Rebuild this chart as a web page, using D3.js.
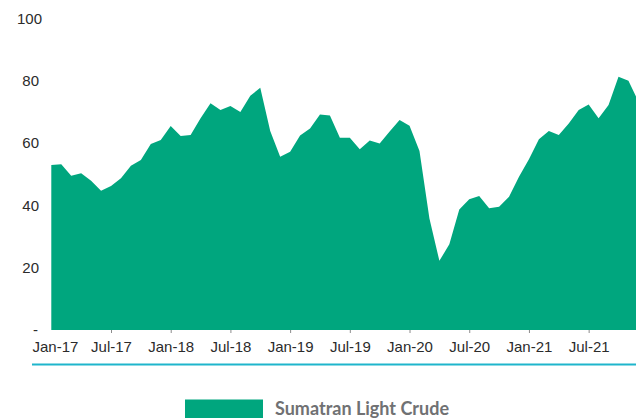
<!DOCTYPE html>
<html>
<head>
<meta charset="utf-8">
<script src="https://cdn.jsdelivr.net/npm/d3@7"></script>
<style>
  body { margin: 0; background: #fff; }
  svg { display: block; }
</style>
</head>
<body>
<script>
var width = 636;
var height = 418;

// months Jan-17 .. Dec-21
var months = d3.timeMonth.range(new Date(2017, 0, 1), new Date(2022, 0, 1));
var fmtMonth = d3.timeFormat("%b-%y");

// Sumatran Light Crude, US$/bbl
var prices = [
  53.0, 53.2, 49.5, 50.3, 47.9, 44.7, 46.2, 48.7, 52.7, 54.6, 59.7, 61.0,
  65.5, 62.3, 62.6, 68.0, 72.8, 70.6, 71.9, 70.0, 75.2, 77.8, 63.9, 55.6,
  57.2, 62.4, 64.7, 69.2, 68.9, 61.7, 61.7, 58.0, 60.8, 59.9, 63.7, 67.4,
  65.6, 57.5, 35.8, 22.2, 27.5, 38.7, 42.0, 43.0, 39.1, 39.6, 42.8, 49.2,
  54.8, 61.2, 63.9, 62.6, 66.3, 70.6, 72.4, 68.0, 72.2, 81.3, 80.0, 73.4
];

var xTickLabels = ["Jan-17", "Jul-17", "Jan-18", "Jul-18", "Jan-19", "Jul-19",
                   "Jan-20", "Jul-20", "Jan-21", "Jul-21"];
var yTicks = [0, 20, 40, 60, 80, 100];
var seriesName = "Sumatran Light Crude";

var data = months.map(function(m, i) { return {m: fmtMonth(m), v: prices[i]}; });

var svg = d3.select("body")
            .append("svg")
            .attr("width", width)
            .attr("height", height);

var x = d3.scalePoint()
          .domain(data.map(function(d) { return d.m; }))
          .range([51.3, 638.4]);

var y = d3.scaleLinear()
          .domain([0, 100])
          .range([330, 18.5]);

// area
var area = d3.area()
             .x(function(d) { return x(d.m); })
             .y0(y(0))
             .y1(function(d) { return y(d.v); });

svg.append("path")
   .datum(data)
   .attr("d", area)
   .attr("fill", "#00a67e");

// x axis (ticks only, no domain line)
var xAxis = svg.append("g")
   .attr("transform", "translate(0," + y(0) + ")")
   .call(d3.axisBottom(x).tickValues(xTickLabels).tickSize(3).tickPadding(8));
xAxis.select(".domain").remove();
xAxis.selectAll(".tick line").attr("stroke", "#8c8c8c");
xAxis.selectAll(".tick text")
     .attr("font-family", "'Liberation Sans', Arial, sans-serif")
     .attr("font-size", "15px")
     .attr("fill", "#2b2b2b")
     .attr("dy", "0.71em");
// first label is pushed right so it starts at the chart edge
xAxis.selectAll(".tick text").each(function(d) {
  var w = this.getComputedTextLength();
  var left = x(d) - w / 2;
  if (left < 32) d3.select(this).attr("x", 32 - left);
});
xAxis.selectAll(".tick").filter(function(d) { return d === "Jan-17"; })
     .select("line").remove();

// y axis labels
var yAxis = svg.append("g")
   .attr("transform", "translate(39,0)")
   .call(d3.axisLeft(y).tickValues(yTicks).tickSize(0).tickPadding(0)
           .tickFormat(function(d) { return d === 0 ? "-" : d; }));
yAxis.select(".domain").remove();
yAxis.selectAll(".tick text")
     .attr("font-family", "'Liberation Sans', Arial, sans-serif")
     .attr("font-size", "15px")
     .attr("fill", "#2b2b2b")
     .attr("dx", function(d) { return d === 0 ? "-1px" : d === 100 ? "3px" : "0"; });

// separator line
svg.append("line")
   .attr("x1", 32).attr("x2", width)
   .attr("y1", 364.5).attr("y2", 364.5)
   .attr("stroke", "#1fb5cc")
   .attr("stroke-width", 2);

// legend
var legend = svg.append("g");
legend.append("rect")
      .attr("x", 185).attr("y", 399.5)
      .attr("width", 78).attr("height", 30)
      .attr("fill", "#00a67e");
legend.append("text")
      .attr("x", 275).attr("y", 415)
      .attr("font-family", "Lato, 'Open Sans', sans-serif")
      .attr("font-weight", "bold")
      .attr("font-size", "18px")
      .attr("fill", "#707173")
      .text(seriesName);
</script>
</body>
</html>
